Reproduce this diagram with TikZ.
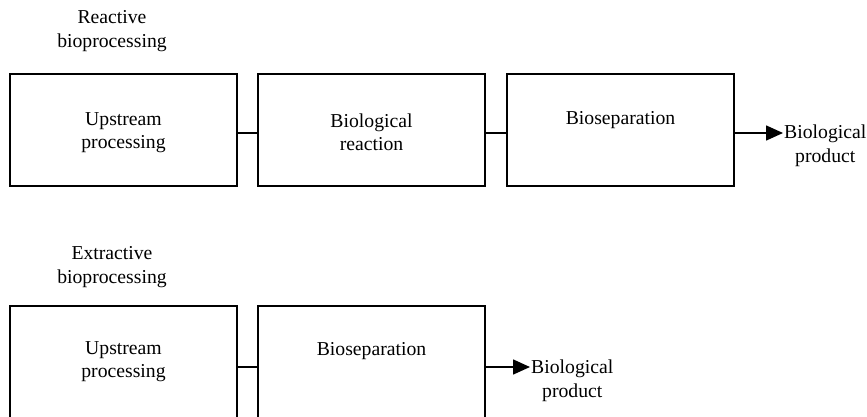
\documentclass[tikz,border=0pt]{standalone}
\usepackage{fontspec}
\setmainfont{Liberation Serif}
\usetikzlibrary{arrows.meta}
\tikzset{
  procbox/.style={draw, line width=1.6pt, minimum width=227pt, minimum height=112pt, inner sep=0pt},
  boxtext/.style={align=center, inner sep=0pt, font=\fontsize{19.7}{23.5}\selectfont},
  lbl/.style={align=center, inner sep=0pt, font=\fontsize{19.7}{24}\selectfont},
  conn/.style={line width=1.6pt},
  arr/.style={line width=1.6pt, -{Triangle[length=17pt,width=15pt]}}
}
\begin{document}
\begin{tikzpicture}[x=1pt,y=-1pt]
\useasboundingbox (0,0) rectangle (867,416);
\clip (0,0) rectangle (867,416);
% top row
\node[lbl] (rlab) at (112,31) {Reactive\\bioprocessing};
\node[procbox] (r1) at (123.5,130) {};
\node[procbox] (r2) at (371.5,130) {};
\node[procbox] (r3) at (620.5,130) {};
\node[boxtext] (r1t) at (123.5,132.5) {Upstream\\processing};
\node[boxtext] (r2t) at (371.5,132.5) {Biological\\reaction};
\node[boxtext] (r3t) at (620.5,120.5) {Bioseparation};
\node[lbl, anchor=west] (rprod) at (784,146) {Biological\\product};
\coordinate (rtip) at (783,133);
\draw[conn] (r1.east |- rtip) -- (r2.west |- rtip);
\draw[conn] (r2.east |- rtip) -- (r3.west |- rtip);
\draw[arr] (r3.east |- rtip) -- (rtip);
% bottom row
\node[lbl] (elab) at (112,267) {Extractive\\bioprocessing};
\node[procbox] (e1) at (123.5,362) {};
\node[procbox] (e2) at (371.5,362) {};
\node[boxtext] (e1t) at (123.5,361.5) {Upstream\\processing};
\node[boxtext] (e2t) at (371.5,351) {Bioseparation};
\node[lbl, anchor=west] (eprod) at (531,381) {Biological\\product};
\coordinate (etip) at (530,367);
\draw[conn] (e1.east |- etip) -- (e2.west |- etip);
\draw[arr] (e2.east |- etip) -- (etip);
\end{tikzpicture}
\end{document}
